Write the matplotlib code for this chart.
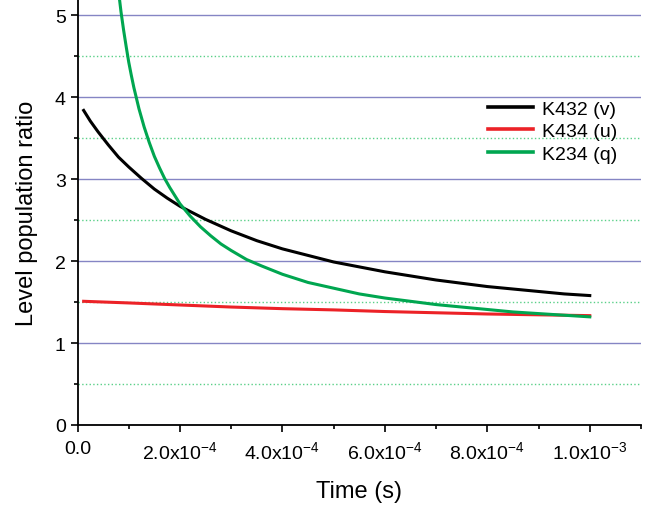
import matplotlib
matplotlib.use("Agg")
import matplotlib.pyplot as plt
from matplotlib.ticker import MultipleLocator, FuncFormatter

plt.rcParams['font.family'] = ['Liberation Sans', 'DejaVu Sans']
plt.rcParams['mathtext.fontset'] = 'custom'
plt.rcParams['mathtext.rm'] = 'Liberation Sans'
plt.rcParams['mathtext.it'] = 'Liberation Sans'

# Values (time in units of 1e-4 s)
t_v = [0.12, 0.25, 0.4, 0.6, 0.8, 1.0, 1.25, 1.5, 1.75, 2.0, 2.5, 3.0, 3.5, 4.0,
       4.5, 5.0, 5.5, 6.0, 6.5, 7.0, 7.5, 8.0, 8.5, 9.0, 9.5, 10.0]
k432_v = [3.84, 3.71, 3.58, 3.42, 3.27, 3.15, 3.01, 2.88, 2.77, 2.67, 2.51, 2.37, 2.25, 2.15,
          2.07, 1.99, 1.93, 1.87, 1.82, 1.77, 1.73, 1.69, 1.66, 1.63, 1.60, 1.58]

t_u = [0.12, 1.0, 2.0, 3.0, 4.0, 5.0, 6.0, 7.0, 8.0, 9.0, 10.0]
k434_u = [1.51, 1.49, 1.465, 1.44, 1.42, 1.405, 1.385, 1.37, 1.355, 1.345, 1.335]

t_q = [0.80, 0.85, 0.90, 0.95, 1.0, 1.05, 1.1, 1.2, 1.3, 1.4, 1.5, 1.6, 1.7, 1.8,
       1.9, 2.0, 2.2, 2.4, 2.6, 2.8, 3.0, 3.3, 3.6, 4.0, 4.5, 5.0, 5.5, 6.0, 6.5,
       7.0, 7.5, 8.0, 8.5, 9.0, 9.5, 10.0]
k234_q = [5.30, 5.04, 4.82, 4.62, 4.43, 4.27, 4.12, 3.86, 3.64, 3.45, 3.28, 3.14, 3.01, 2.90,
          2.80, 2.70, 2.55, 2.42, 2.31, 2.21, 2.13, 2.02, 1.94, 1.84, 1.74, 1.67, 1.60, 1.55, 1.51,
          1.47, 1.44, 1.41, 1.38, 1.36, 1.34, 1.32]

labels = ['K432 (v)', 'K434 (u)', 'K234 (q)']
colors = ['#000000', '#ec2227', '#00a650']


def xfmt(x, pos):
    if abs(x) < 1e-12:
        return '0.0'
    exp = int(('%e' % x).split('e')[1])
    mant = x / 10 ** exp
    return '%.1fx10$^{%d}$' % (mant, exp)


fig = plt.figure(figsize=(6.52, 5.06), dpi=100)
ax = fig.add_axes([77.5 / 652, 80 / 506, (641 - 77.5) / 652, 426 / 506])

ax.plot([t * 1e-4 for t in t_v], k432_v, color=colors[0], lw=2.2, label=labels[0])
ax.plot([t * 1e-4 for t in t_u], k434_u, color=colors[1], lw=2.2, label=labels[1])
ax.plot([t * 1e-4 for t in t_q], k234_q, color=colors[2], lw=2.2, label=labels[2])

ax.set_xlim(0, 1.1e-3)
ax.set_ylim(0, 5.2)
ax.xaxis.set_major_locator(MultipleLocator(2e-4))
ax.xaxis.set_minor_locator(MultipleLocator(1e-4))
ax.yaxis.set_major_locator(MultipleLocator(1))
ax.yaxis.set_minor_locator(MultipleLocator(0.5))
ax.xaxis.set_major_formatter(FuncFormatter(xfmt))

ax.grid(True, which='major', axis='y', color='#8585c4', lw=1.0)
ax.grid(True, which='minor', axis='y', color='#5ad088', lw=1.0, ls=':')
ax.set_axisbelow(True)

for s in ['top', 'right']:
    ax.spines[s].set_visible(False)
ax.spines['left'].set_linewidth(1.3)
ax.spines['bottom'].set_linewidth(1.3)

ax.tick_params(which='major', direction='out', length=5, width=1.2, labelsize=14)
ax.tick_params(which='minor', direction='out', length=3, width=1.2)
ax.tick_params(axis='x', pad=6)

ax.set_xlabel('Time (s)', fontsize=17, labelpad=13)
ax.set_ylabel('Level population ratio', fontsize=17, labelpad=12)

leg = ax.legend(loc='upper left', bbox_to_anchor=(488 / 652, 1 - 101 / 506),
                bbox_transform=fig.transFigure, frameon=False, fontsize=14,
                handlelength=2.3, handletextpad=0.5, labelspacing=0.25,
                borderpad=0, borderaxespad=0)
for line in leg.get_lines():
    line.set_linewidth(2.6)

fig.savefig('out.png', dpi=100)
